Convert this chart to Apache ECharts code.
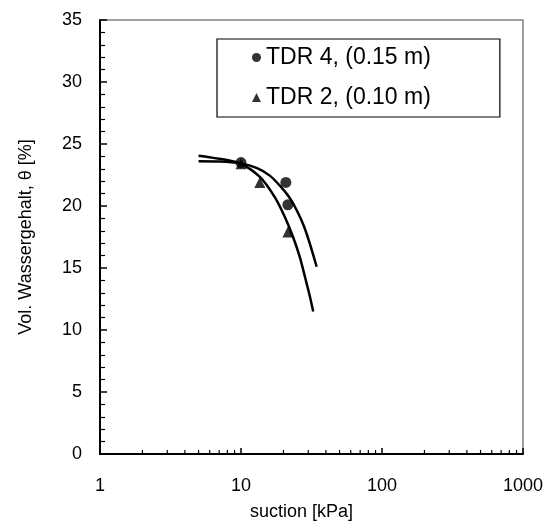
<!DOCTYPE html>
<html>
<head>
<meta charset="utf-8">
<script src="https://cdn.jsdelivr.net/npm/echarts@6/dist/echarts.min.js"></script>
<style>
html, body { margin: 0; padding: 0; background: #fff; }
#chart { width: 553px; height: 531px; }
</style>
</head>
<body>
<div id="chart"></div>
<script>
// measured points
var tdr4X = [10, 20.8, 21.5]
var tdr4Y = [23.5, 21.9, 20.1]
var tdr2X = [10, 13.6, 21.5]
var tdr2Y = [23.4, 21.9, 17.9]

// fitted curves
var fit4X = [5, 7, 10, 13, 16, 19, 22, 25, 28, 31, 34.4]
var fit4Y = [23.6, 23.58, 23.42, 23.05, 22.45, 21.6, 20.7, 19.6, 18.35, 16.85, 15.1]
var fit2X = [5, 6.2, 9.7, 13.6, 17.4, 20.5, 23.4, 26.1, 28.4, 30.8, 32.5]
var fit2Y = [24.05, 23.9, 23.45, 22.35, 20.7, 19.1, 17.5, 15.9, 14.3, 12.7, 11.5]

// log axis minor ticks
var minorX = [2, 3, 4, 5, 6, 7, 8, 9, 20, 30, 40, 50, 60, 70, 80, 90, 200, 300, 400, 500, 600, 700, 800, 900]

var names = ['TDR 4, (0.15 m)', 'TDR 2, (0.10 m)']
var font = 'Liberation Sans, Arial, sans-serif'

function pairs(xs, ys) {
	return xs.map(function (x, i) { return [x, ys[i]] })
}

var myChart = echarts.init(document.getElementById('chart'))
var option = {
	animation: false,
	grid: {
		left: 100, top: 20, right: 30, bottom: 77,
		show: true, borderColor: '#808080', borderWidth: 1.5
	},
	legend: {
		data: [
			{ name: names[0], icon: 'circle' },
			{ name: names[1], icon: 'triangle' }
		],
		orient: 'vertical',
		left: 217, top: 39,
		padding: [7, 69, 8, 35],
		itemGap: 17,
		itemWidth: 9, itemHeight: 9,
		borderColor: '#000', borderWidth: 1.2,
		textStyle: { fontFamily: font, fontSize: 23, color: '#000' }
	},
	xAxis: {
		type: 'log', logBase: 10, min: 1, max: 1000,
		name: 'suction [kPa]', nameLocation: 'middle', nameGap: 49,
		nameTextStyle: { fontFamily: font, fontSize: 18, color: '#000', padding: [0, 20, 0, 0] },
		axisLine: { lineStyle: { color: '#000', width: 2 } },
		axisTick: { inside: true, length: 6, lineStyle: { color: '#000', width: 1.5 } },
		axisLabel: {
			margin: 23, fontFamily: font, fontSize: 18, color: '#000',
			formatter: function (v) { return String(Math.round(v)) }
		},
		splitLine: { show: false }
	},
	yAxis: {
		type: 'value', min: 0, max: 35, interval: 5,
		name: 'Vol. Wassergehalt, θ [%]', nameLocation: 'middle', nameGap: 65,
		nameTextStyle: { fontFamily: font, fontSize: 18, color: '#000' },
		axisLine: { show: true, lineStyle: { color: '#000', width: 2 } },
		axisTick: { inside: true, length: 7, lineStyle: { color: '#000', width: 1.5 } },
		minorTick: { show: true, splitNumber: 5, length: 5, lineStyle: { color: '#000', width: 1.2 } },
		axisLabel: { margin: 18, fontFamily: font, fontSize: 18, color: '#000' },
		splitLine: { show: false }
	},
	series: [
		{
			type: 'custom',
			silent: true,
			data: minorX.map(function (v) { return [v] }),
			renderItem: function (params, api) {
				var p = api.coord([api.value(0), 0])
				return {
					type: 'line',
					shape: { x1: p[0], y1: p[1], x2: p[0], y2: p[1] - 4 },
					style: { stroke: '#000', lineWidth: 1.2 }
				}
			}
		},
		{
			type: 'line', data: pairs(fit4X, fit4Y), smooth: 0.3,
			showSymbol: false, lineStyle: { color: '#000', width: 2.5 }
		},
		{
			type: 'line', data: pairs(fit2X, fit2Y), smooth: 0.3,
			showSymbol: false, lineStyle: { color: '#000', width: 2.5 }
		},
		{
			name: names[1], type: 'scatter', symbol: 'triangle', symbolSize: 11,
			data: pairs(tdr2X, tdr2Y), itemStyle: { color: '#000' }
		},
		{
			name: names[0], type: 'scatter', symbol: 'circle', symbolSize: 11,
			data: pairs(tdr4X, tdr4Y), itemStyle: { color: '#000' }
		}
	]
}
myChart.setOption(option)
</script>
</body>
</html>
